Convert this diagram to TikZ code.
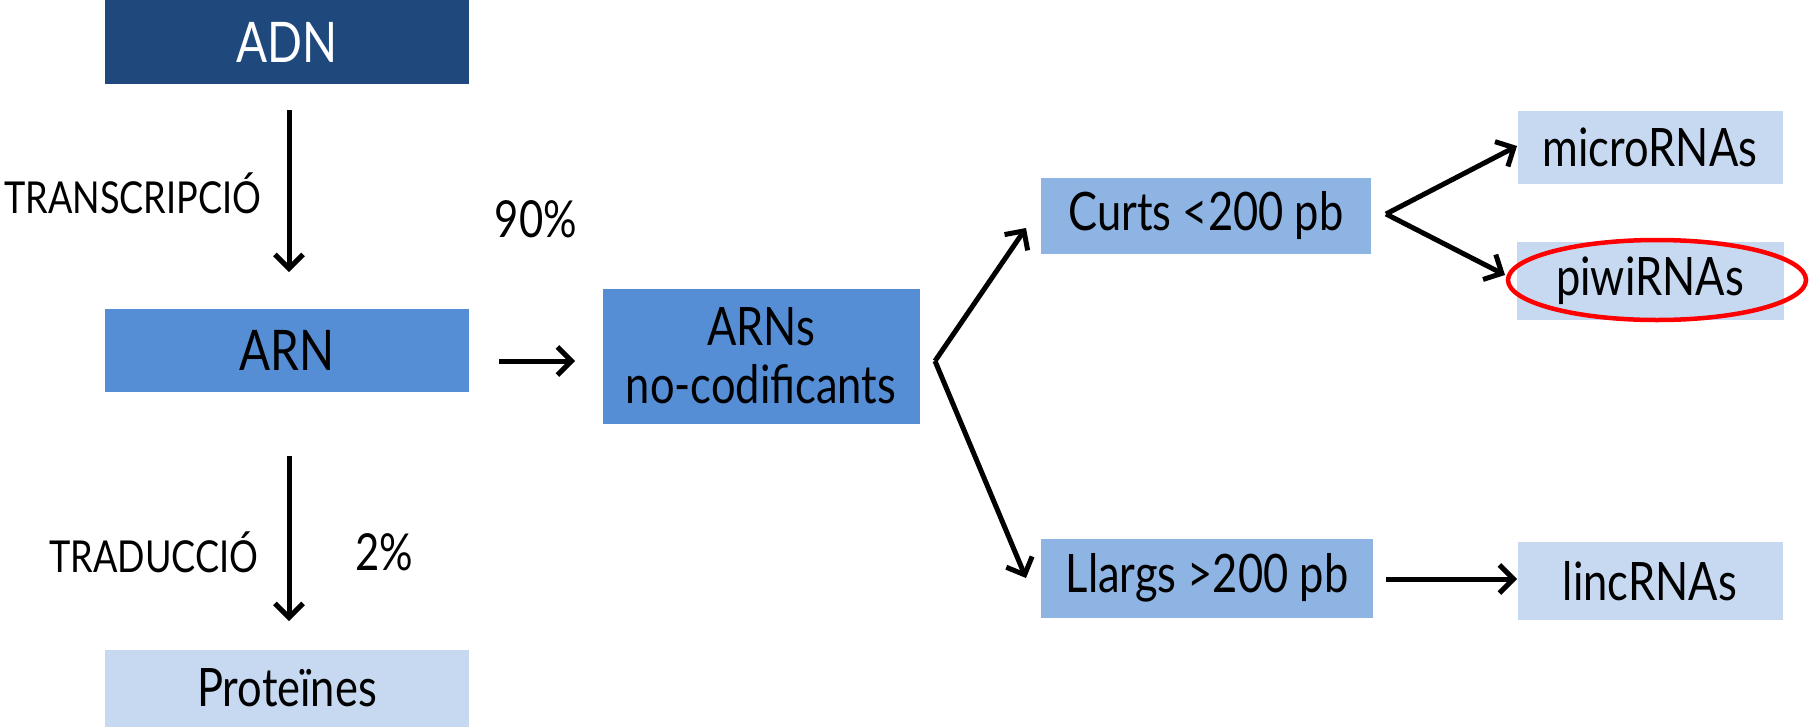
\documentclass[tikz,border=0pt]{standalone}
\usepackage{fontspec}
\setmainfont[FakeStretch=0.82]{Lato}
\usetikzlibrary{arrows.meta,calc}
\definecolor{dnablue}{HTML}{1F497D}
\definecolor{rnablue}{HTML}{558ED5}
\definecolor{midblue}{HTML}{8EB4E3}
\definecolor{paleblue}{HTML}{C6D9F1}
\definecolor{ringred}{HTML}{FF0000}
\begin{document}
\begin{tikzpicture}[x=1pt,y=-1pt,
  box/.style={inner sep=0pt, outer sep=0pt, draw=none, align=center, font=\fontsize{53}{58}\selectfont},
  bigbox/.style={box, font=\fontsize{56}{62}\selectfont},
  lbl/.style={inner sep=0pt, font=\fontsize{44}{50}\selectfont},
  pct/.style={inner sep=0pt, font=\fontsize{51}{56}\selectfont},
  arr/.style={line width=5pt, -{Straight Barb[length=14pt,width=28pt,line width=5pt]}}
]
\useasboundingbox (0,0) rectangle (1810,726);
% boxes
\node[bigbox, fill=dnablue, text=white, minimum width=364pt, minimum height=84pt] (adn) at (287,42) {ADN};
\node[bigbox, fill=rnablue, minimum width=364pt, minimum height=83pt] (arn) at (287,350) {ARN};
\node[box, fill=paleblue, minimum width=364pt, minimum height=77pt] (prot) at (287,688) {Proteïnes};
\node[box, fill=rnablue, minimum width=317pt, minimum height=135pt] (arns) at (761,356) {ARNs\\no-codificants};
\node[box, fill=midblue, minimum width=330pt, minimum height=76pt] (curts) at (1206,216) {Curts <200 pb};
\node[box, fill=midblue, minimum width=332pt, minimum height=79pt] (llargs) at (1207,578) {Llargs >200 pb};
\node[box, fill=paleblue, minimum width=265pt, minimum height=73pt] (micro) at (1650,147) {microRNAs};
\node[box, fill=paleblue, minimum width=267pt, minimum height=78pt] (piwi) at (1650,281) {piwiRNAs};
\node[box, fill=paleblue, minimum width=265pt, minimum height=78pt] (linc) at (1650,581) {lincRNAs};
\draw[draw=ringred, line width=4.5pt] (1657,280) ellipse [x radius=149pt, y radius=40pt];
% labels
\node[lbl, anchor=west] (transc) at (4,193) {TRANSCRIPCIÓ};
\node[lbl, anchor=west] (tradu) at (49,552) {TRADUCCIÓ};
\node[pct] (p90) at (536,219) {90\%};
\node[pct] (p2) at (384,552) {2\%};
% arrow coordinates
\coordinate (a1s) at (289,110);
\coordinate (a1e) at (289,272);
\coordinate (a2s) at (289,456);
\coordinate (a2e) at (289,621);
\coordinate (a3s) at (499,361);
\coordinate (a3e) at (575,361);
\coordinate (v1) at (935,361);
\coordinate (cin) at (1026,228);
\coordinate (lin) at (1026,578);
\coordinate (v2) at (1386,214);
\coordinate (min) at (1517,146);
\coordinate (pin) at (1505,275);
\coordinate (l2s) at (1386,579);
\coordinate (l2e) at (1517,579);
% arrows
\draw[arr] (a1s) -- (a1e);
\draw[arr] (a2s) -- (a2e);
\draw[arr] (a3s) -- (a3e);
\draw[arr] (v1) -- (cin);
\draw[arr] (v1) -- (lin);
\draw[arr] (v2) -- (min);
\draw[arr] (v2) -- (pin);
\draw[arr] (l2s) -- (l2e);
\end{tikzpicture}
\end{document}
